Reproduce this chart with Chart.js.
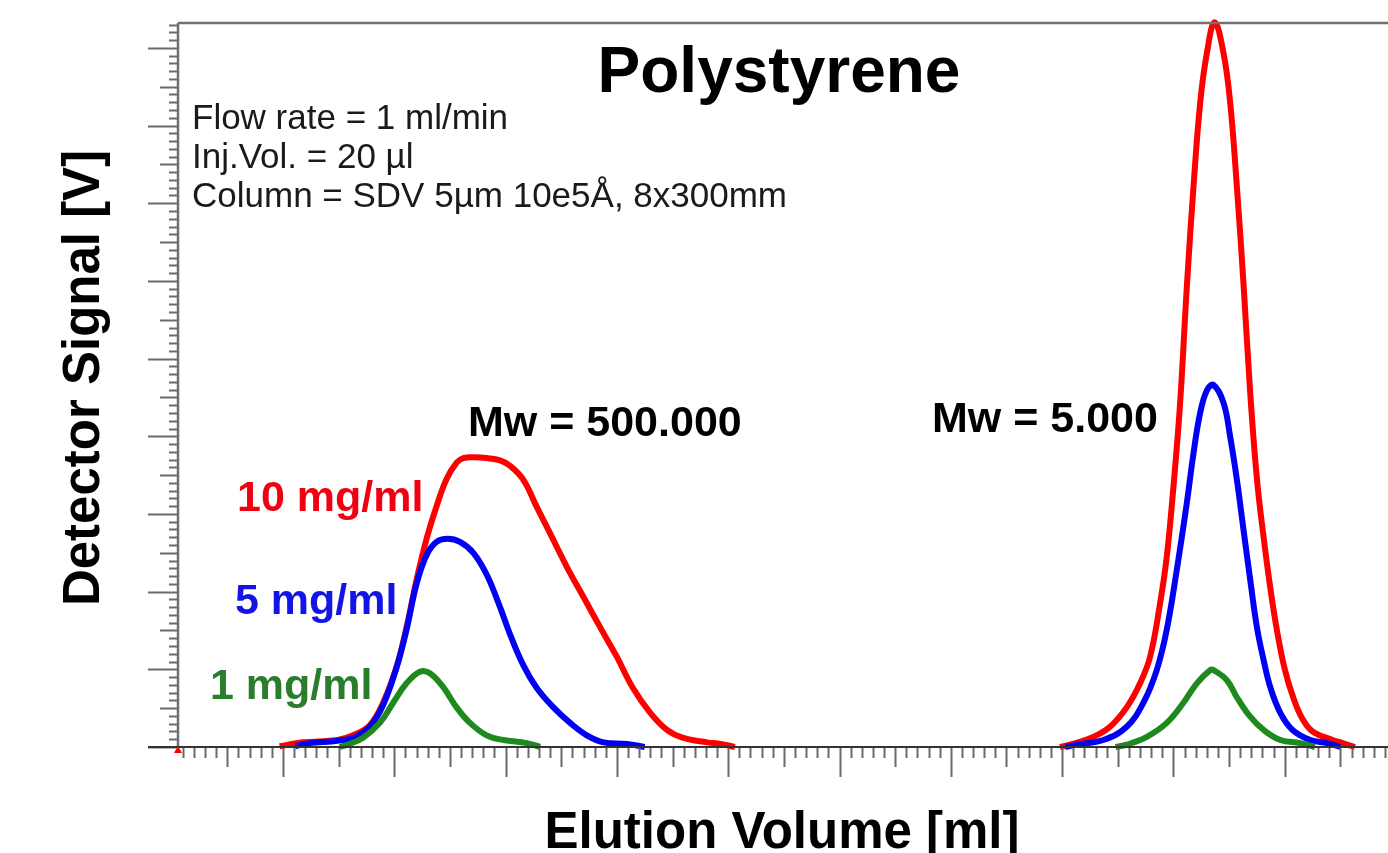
<!DOCTYPE html>
<html>
<head>
<meta charset="utf-8">
<script src="https://cdn.jsdelivr.net/npm/chart.js@4.4.1/dist/chart.umd.min.js"></script>
<style>
  html, body { margin: 0; padding: 0; background: #fff; overflow: hidden; }
  #wrap { position: relative; width: 1420px; height: 853px; }
</style>
</head>
<body>
<div id="wrap"><canvas id="chart"></canvas></div>
<script>
// elution volume [ml] and detector signal [V]
// (null splits the low and high molecular weight peaks)
const volRed = [3.97, 4.18, 4.49, 4.63, 4.78, 4.90, 5.02, 5.11, 5.20, 5.29, 5.38, 5.47, 5.56, 5.62, 5.73, 5.83, 5.95, 6.04, 6.16, 6.28, 6.40, 6.55, 6.70, 6.85, 7.00, 7.14, 7.30, 7.45, 7.59, 7.81, 7.93, 8.06,
                9.5,
                10.98, 11.07, 11.28, 11.43, 11.58, 11.70, 11.79, 11.88, 11.94, 12.00, 12.06, 12.12, 12.18, 12.24, 12.30, 12.37, 12.45, 12.51, 12.57, 12.63, 12.69, 12.75, 12.81, 12.87, 12.93, 13.00, 13.08, 13.16, 13.25, 13.43, 13.52, 13.63];
const sigRed = [0.01, 0.06, 0.09, 0.15, 0.28, 0.57, 1.03, 1.54, 2.15, 2.68, 3.10, 3.45, 3.66, 3.72, 3.73, 3.72, 3.69, 3.62, 3.44, 3.09, 2.75, 2.32, 1.93, 1.54, 1.16, 0.77, 0.44, 0.22, 0.12, 0.06, 0.04, 0,
                null,
                0, 0.03, 0.13, 0.26, 0.51, 0.82, 1.16, 1.85, 2.45, 3.35, 4.43, 5.92, 7.21, 8.29, 8.93, 9.33, 8.93, 8.29, 7.21, 5.95, 4.55, 3.45, 2.70, 2.05, 1.50, 1.00, 0.62, 0.36, 0.20, 0.09, 0.05, 0];

const volBlue = [4.11, 4.24, 4.49, 4.65, 4.78, 4.90, 5.02, 5.11, 5.20, 5.29, 5.38, 5.48, 5.59, 5.71, 5.83, 5.95, 6.04, 6.16, 6.28, 6.43, 6.58, 6.73, 6.88, 7.09, 7.25,
                 9.5,
                 11.03, 11.13, 11.37, 11.58, 11.73, 11.85, 11.94, 12.03, 12.12, 12.18, 12.24, 12.30, 12.36, 12.45, 12.51, 12.57, 12.63, 12.69, 12.75, 12.81, 12.87, 12.96, 13.07, 13.23, 13.38, 13.50];
const sigBlue = [0.01, 0.05, 0.08, 0.13, 0.26, 0.54, 1.02, 1.51, 2.10, 2.47, 2.64, 2.68, 2.64, 2.50, 2.22, 1.80, 1.45, 1.05, 0.76, 0.51, 0.31, 0.15, 0.06, 0.04, 0,
                 null,
                 0, 0.03, 0.09, 0.26, 0.57, 0.99, 1.51, 2.28, 3.14, 3.78, 4.30, 4.59, 4.66, 4.43, 3.99, 3.44, 2.79, 2.15, 1.54, 1.12, 0.77, 0.44, 0.22, 0.09, 0.05, 0];

const volGreen = [4.51, 4.58, 4.72, 4.87, 4.99, 5.11, 5.23, 5.32, 5.44, 5.56, 5.68, 5.83, 5.98, 6.19, 6.31,
                  9.5,
                  11.48, 11.58, 11.76, 11.94, 12.09, 12.21, 12.33, 12.36, 12.48, 12.57, 12.69, 12.81, 12.96, 13.14, 13.27];
const sigGreen = [0, 0.03, 0.12, 0.31, 0.57, 0.82, 0.97, 0.95, 0.77, 0.51, 0.31, 0.15, 0.09, 0.05, 0,
                  null,
                  0, 0.03, 0.13, 0.31, 0.57, 0.82, 0.99, 0.99, 0.86, 0.64, 0.39, 0.22, 0.09, 0.05, 0];

const xMin = 3.057, xMax = 14.215;
const yMin = 0, yMax = 9.32;

function toPoints(xs, ys) {
    return xs.map(function(v, i) { return { x: v, y: ys[i] }; });
}

// tick marks, frame and the text drawn on the canvas
const decorations = {
    id: 'decorations',
    afterDatasetsDraw(chart) {
        const ctx = chart.ctx;
        const a = chart.chartArea;
        const x = chart.scales.x;
        const y = chart.scales.y;
        ctx.save();

        // frame: top and left in grey
        ctx.strokeStyle = '#707070';
        ctx.lineWidth = 2.5;
        ctx.beginPath();
        ctx.moveTo(a.left, a.top);
        ctx.lineTo(a.right, a.top);
        ctx.moveTo(a.left, a.top);
        ctx.lineTo(a.left, a.bottom);
        ctx.stroke();

        // x ticks below the baseline
        ctx.strokeStyle = '#6a6a6a';
        ctx.lineWidth = 2;
        ctx.beginPath();
        for (let i = Math.ceil(xMin * 10); i <= Math.floor(xMax * 10); i++) {
            const px = Math.round(x.getPixelForValue(i / 10)) + 0.5;
            const len = i % 10 === 0 ? 30 : (i % 5 === 0 ? 20 : 11);
            ctx.moveTo(px, a.bottom);
            ctx.lineTo(px, a.bottom + len);
        }
        ctx.stroke();

        // y ticks left of the axis
        ctx.beginPath();
        for (let i = 0; i <= Math.floor(yMax * 10); i++) {
            const py = Math.round(y.getPixelForValue(i / 10)) + 0.5;
            const len = i % 10 === 0 ? 30 : (i % 5 === 0 ? 18 : 9);
            ctx.moveTo(a.left, py);
            ctx.lineTo(a.left - len, py);
        }
        ctx.stroke();

        // baseline
        ctx.strokeStyle = '#333';
        ctx.lineWidth = 2;
        ctx.beginPath();
        ctx.moveTo(a.left - 30, a.bottom);
        ctx.lineTo(a.right, a.bottom);
        ctx.stroke();

        // small red marker at the origin
        ctx.fillStyle = '#ff0000';
        ctx.beginPath();
        ctx.moveTo(a.left - 4, a.bottom + 6);
        ctx.lineTo(a.left + 4, a.bottom + 6);
        ctx.lineTo(a.left, a.bottom - 1);
        ctx.closePath();
        ctx.fill();

        // title and notes
        ctx.fillStyle = '#000';
        ctx.textBaseline = 'alphabetic';
        ctx.textAlign = 'center';
        ctx.font = 'bold 64px "Liberation Sans", Arial, sans-serif';
        ctx.fillText('Polystyrene', 779, 92);

        ctx.textAlign = 'left';
        ctx.font = '35px "Liberation Sans", Arial, sans-serif';
        ctx.fillStyle = '#1a1a1a';
        ctx.fillText('Flow rate = 1 ml/min', 192, 129);
        ctx.fillText('Inj.Vol. = 20 µl', 192, 168);
        ctx.fillText('Column = SDV 5µm 10e5Å, 8x300mm', 192, 207);

        ctx.font = 'bold 43px "Liberation Sans", Arial, sans-serif';
        ctx.fillStyle = '#000';
        ctx.fillText('Mw = 500.000', 468, 436);
        ctx.fillText('Mw = 5.000', 932, 432);

        ctx.fillStyle = '#f00010';
        ctx.fillText('10 mg/ml', 237, 511);
        ctx.fillStyle = '#1414e6';
        ctx.fillText('5 mg/ml', 235, 614);
        ctx.fillStyle = '#2a7d2a';
        ctx.fillText('1 mg/ml', 210, 699);

        // axis titles
        ctx.fillStyle = '#000';
        ctx.font = 'bold 51px "Liberation Sans", Arial, sans-serif';
        ctx.textAlign = 'center';
        ctx.fillText('Elution Volume [ml]', 782, 848);
        ctx.translate(99, 378);
        ctx.rotate(-Math.PI / 2);
        ctx.fillText('Detector Signal [V]', 0, 0);

        ctx.restore();
    }
};

const lineStyle = {
    borderWidth: 6,
    pointRadius: 0,
    tension: 0.4,
    spanGaps: false,
    clip: false,
    fill: false
};

new Chart(document.getElementById('chart'), {
    type: 'line',
    data: {
        datasets: [
            Object.assign({ label: '1 mg/ml', data: toPoints(volGreen, sigGreen), borderColor: '#1e8a1e' }, lineStyle),
            Object.assign({ label: '5 mg/ml', data: toPoints(volBlue, sigBlue), borderColor: '#0000f5' }, lineStyle),
            Object.assign({ label: '10 mg/ml', data: toPoints(volRed, sigRed), borderColor: '#ff0000' }, lineStyle)
        ]
    },
    options: {
        responsive: true,
        maintainAspectRatio: false,
        animation: false,
        layout: { padding: { left: 178, top: 23, right: 0, bottom: 106 } },
        plugins: {
            legend: { display: false },
            tooltip: { enabled: false }
        },
        scales: {
            x: {
                type: 'linear',
                min: xMin,
                max: xMax,
                ticks: { display: false },
                grid: { display: false },
                border: { display: false },
                afterFit: function(s) { s.height = 0; }
            },
            y: {
                min: yMin,
                max: yMax,
                ticks: { display: false },
                grid: { display: false },
                border: { display: false },
                afterFit: function(s) { s.width = 0; }
            }
        }
    },
    plugins: [decorations]
});
</script>
</body>
</html>
